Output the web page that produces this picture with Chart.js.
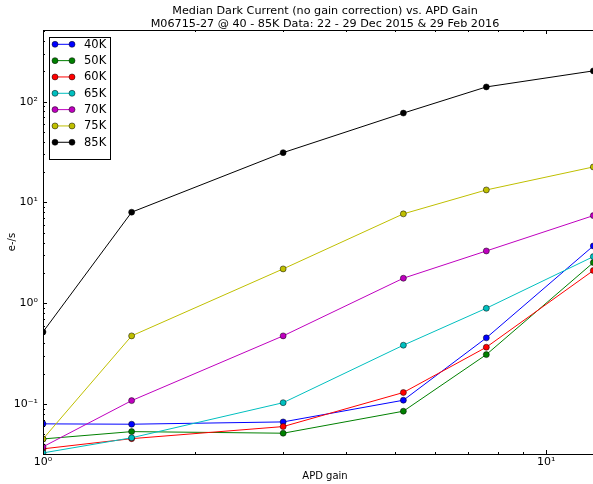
<!DOCTYPE html>
<html>
<head>
<meta charset="utf-8">
<script src="https://cdn.jsdelivr.net/npm/chart.js@4.4.1/dist/chart.umd.min.js"></script>
<style>
  html, body { margin: 0; padding: 0; overflow: hidden; background: #fff; }
  #wrap { width: 650px; height: 484px; }
</style>
</head>
<body>
<div id="wrap"><canvas id="c" width="650" height="484"></canvas></div>
<script>
// APD gain settings and median dark current (e-/s) per temperature
const gains = [1, 1.5, 3, 5.2, 7.6, 12.4];
const seriesNames = ['40K', '50K', '60K', '65K', '70K', '75K', '85K'];
const dark40K = [0.0635, 0.063, 0.0664, 0.109, 0.453, 3.70];
const dark50K = [0.045, 0.0532, 0.0513, 0.0848, 0.309, 2.53];
const dark60K = [0.0359, 0.0453, 0.0597, 0.130, 0.366, 2.11];
const dark65K = [0.0327, 0.0462, 0.103, 0.383, 0.891, 2.90];
const dark70K = [0.0376, 0.108, 0.474, 1.77, 3.30, 7.4];
const dark75K = [0.045, 0.474, 2.19, 7.7, 13.3, 22.5];
const dark85K = [0.519, 8.0, 31.2, 77, 140, 202];

const xTickValues = [1, 10];
const xTickLabels = ['10\u2070', '10\u00B9'];
const yTickValues = [0.1, 1, 10, 100];
const yTickLabels = ['10\u207B\u00B9', '10\u2070', '10\u00B9', '10\u00B2'];

const titleLines = [
  'Median Dark Current (no gain correction) vs. APD Gain',
  'M06715-27 @ 40 - 85K Data: 22 - 29 Dec 2015 & 29 Feb 2016'
];

const allSeries = [dark40K, dark50K, dark60K, dark65K, dark70K, dark75K, dark85K];
const colors = ['#0000ff', '#008000', '#ff0000', '#00bfbf', '#bf00bf', '#bfbf00', '#000000'];
const FONT = 'DejaVu Sans';

const datasets = allSeries.map((vals, i) => ({
  label: seriesNames[i],
  data: gains.map((g, j) => ({ x: g, y: vals[j] })),
  borderColor: colors[i],
  backgroundColor: colors[i],
  pointBackgroundColor: colors[i],
  pointBorderColor: '#000',
  pointBorderWidth: 0.5,
  pointRadius: 3,
  borderWidth: 1,
  tension: 0,
  order: allSeries.length - i
}));

function logMinorTicks(min, max) {
  const out = [];
  for (let e = Math.floor(Math.log10(min)) - 1; e <= Math.ceil(Math.log10(max)); e++) {
    for (let k = 1; k < 10; k++) {
      const v = k * Math.pow(10, e);
      if (v >= min * 0.9999 && v <= max * 1.0001) out.push({ v, major: k === 1 });
    }
  }
  return out;
}

// Axes frame with inward major/minor ticks on all sides
const frameTicks = {
  id: 'frameTicks',
  afterDatasetsDraw(chart) {
    const { ctx, chartArea: a, scales: { x, y } } = chart;
    ctx.save();
    ctx.strokeStyle = '#000';
    ctx.lineWidth = 1;
    ctx.beginPath();
    for (const t of logMinorTicks(x.min, x.max)) {
      const px = Math.round(x.getPixelForValue(t.v)) + 0.5;
      const len = t.major ? 4 : 2;
      ctx.moveTo(px, a.bottom); ctx.lineTo(px, a.bottom - len);
      ctx.moveTo(px, a.top); ctx.lineTo(px, a.top + len);
    }
    for (const t of logMinorTicks(y.min, y.max)) {
      const py = Math.round(y.getPixelForValue(t.v)) + 0.5;
      const len = t.major ? 4 : 2;
      ctx.moveTo(a.left, py); ctx.lineTo(a.left + len, py);
      ctx.moveTo(a.right, py); ctx.lineTo(a.right - len, py);
    }
    ctx.stroke();
    ctx.strokeRect(Math.round(a.left) + 0.5, Math.round(a.top) + 0.5,
                   Math.round(a.right - a.left), Math.round(a.bottom - a.top));
    ctx.restore();
  }
};

// Title lines and the boxed legend in the upper left of the axes
const titleLegend = {
  id: 'titleLegend',
  afterDraw(chart) {
    const { ctx, chartArea: a } = chart;
    ctx.save();
    ctx.fillStyle = '#000';
    ctx.font = '11.2px "' + FONT + '"';
    ctx.textAlign = 'center';
    ctx.textBaseline = 'middle';
    const cx = (a.left + a.right) / 2;
    ctx.fillText(titleLines[0], cx, 11);
    ctx.fillText(titleLines[1], cx, 24.5);

    const bx = a.left + 6, by = a.top + 7, rowH = 16.33;
    const bw = 61, bh = rowH * seriesNames.length + 8;
    ctx.fillStyle = '#fff';
    ctx.fillRect(bx, by, bw, bh);
    ctx.strokeStyle = '#000';
    ctx.lineWidth = 1;
    ctx.strokeRect(Math.round(bx) + 0.5, Math.round(by) + 0.5, Math.round(bw), Math.round(bh));
    ctx.textAlign = 'left';
    ctx.font = '11.5px "' + FONT + '"';
    seriesNames.forEach((name, i) => {
      const yy = by + 7.3 + rowH * i;
      const x0 = bx + 6, x1 = bx + 23;
      ctx.strokeStyle = colors[i];
      ctx.lineWidth = 1;
      ctx.beginPath(); ctx.moveTo(x0, yy); ctx.lineTo(x1, yy); ctx.stroke();
      for (const px of [x0, x1]) {
        ctx.beginPath();
        ctx.arc(px, yy, 3, 0, Math.PI * 2);
        ctx.fillStyle = colors[i];
        ctx.fill();
        ctx.lineWidth = 0.5;
        ctx.strokeStyle = '#000';
        ctx.stroke();
      }
      ctx.fillStyle = '#000';
      ctx.fillText(name, bx + 35, yy + 0.5);
    });
    ctx.restore();
  }
};

new Chart(document.getElementById('c'), {
  type: 'line',
  data: { datasets },
  plugins: [frameTicks, titleLegend],
  options: {
    responsive: false,
    animation: false,
    devicePixelRatio: 1,
    layout: { padding: { top: 30, right: 43, bottom: 0, left: 0 } },
    plugins: { legend: { display: false }, title: { display: false }, tooltip: { enabled: false } },
    scales: {
      x: {
        type: 'logarithmic',
        min: 1,
        max: 13.2,
        grid: { display: false, drawTicks: false },
        border: { display: false },
        afterBuildTicks: s => { s.ticks = xTickValues.map(v => ({ value: v })); },
        afterFit: s => { s.height = 30; },
        ticks: {
          callback: (v, i) => xTickLabels[i],
          font: { family: FONT, size: 11 },
          color: '#000',
          padding: 2,
          maxRotation: 0,
          autoSkip: false
        },
        title: {
          display: true,
          text: 'APD gain',
          color: '#000',
          font: { family: FONT, size: 10 },
          padding: { top: 0, bottom: 2 }
        }
      },
      y: {
        type: 'logarithmic',
        min: 0.0319,
        max: 514,
        grid: { display: false, drawTicks: false },
        border: { display: false },
        afterBuildTicks: s => { s.ticks = yTickValues.map(v => ({ value: v })); },
        afterFit: s => { s.width = 43; },
        ticks: {
          callback: (v, i) => yTickLabels[i],
          font: { family: FONT, size: 11 },
          color: '#000',
          padding: 5,
          autoSkip: false
        },
        title: {
          display: true,
          text: 'e-/s',
          color: '#000',
          font: { family: FONT, size: 10 },
          padding: { top: 6, bottom: 0 }
        }
      }
    }
  }
});
</script>
</body>
</html>
